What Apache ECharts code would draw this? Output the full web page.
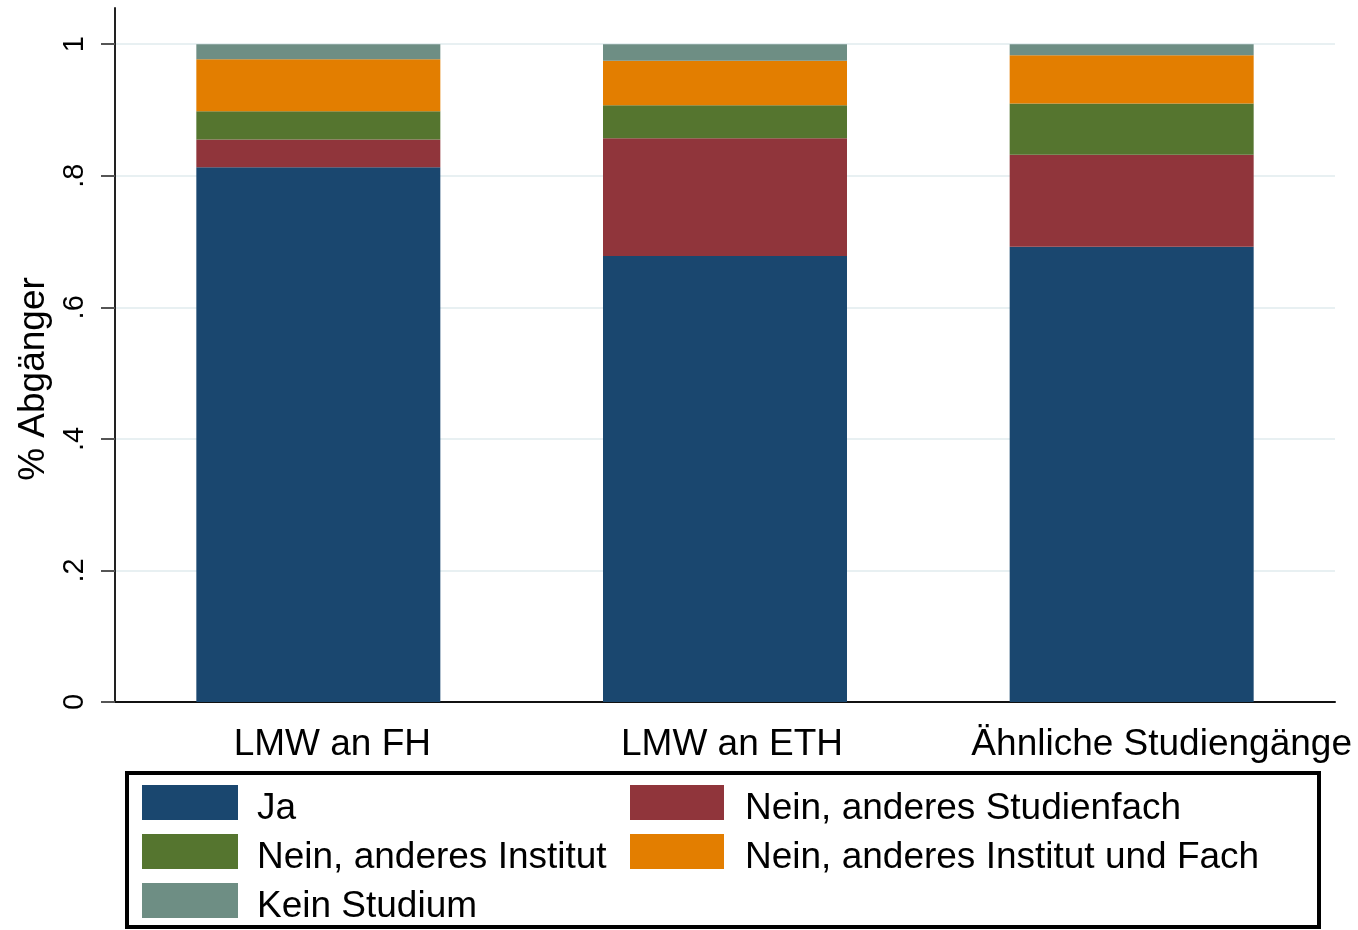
<!DOCTYPE html>
<html>
<head>
<meta charset="utf-8">
<script src="https://cdn.jsdelivr.net/npm/echarts@6/dist/echarts.min.js"></script>
<style>
html,body{margin:0;padding:0;background:#fff;}
#chart{width:1358px;height:930px;}
</style>
</head>
<body>
<div id="chart"></div>
<script>
const categories = ['LMW an FH', 'LMW an ETH', 'Ähnliche Studiengänge'];
const seriesNames = ['Ja', 'Nein, anderes Studienfach', 'Nein, anderes Institut', 'Nein, anderes Institut und Fach', 'Kein Studium'];
const ja = [0.813, 0.678, 0.692];
const andStudienfach = [0.042, 0.179, 0.140];
const andInstitut = [0.043, 0.050, 0.078];
const andInstitutFach = [0.079, 0.068, 0.073];
const keinStudium = [0.023, 0.025, 0.017];
const yTicks = [0, 0.2, 0.4, 0.6, 0.8, 1];
const yTickLabels = ['0', '.2', '.4', '.6', '.8', '1'];

const colors = ['#1a476f', '#90353b', '#55752f', '#e37e00', '#6e8e84'];
const values = [ja, andStudienfach, andInstitut, andInstitutFach, keinStudium];
const FONT = '"Liberation Sans", Arial, sans-serif';

const legendBase = {
  orient: 'vertical',
  top: 778,
  padding: 0,
  itemHeight: 35,
  itemGap: 0,
  icon: 'rect',
  selectedMode: false,
  formatter: function (n) { return '{t|' + n + '}'; }
};

const chart = echarts.init(document.getElementById('chart'));
chart.setOption({
  animation: false,
  backgroundColor: '#fff',
  color: colors,
  grid: { left: 115, right: 23, top: 8, bottom: 228, containLabel: false },
  xAxis: {
    type: 'category',
    data: categories,
    axisLine: { lineStyle: { color: '#111', width: 2 } },
    axisTick: { show: false },
    axisLabel: {
      interval: 0,
      color: '#000',
      fontSize: 37,
      fontFamily: FONT,
      margin: 24,
      formatter: function (v, i) { return '{c' + i + '|' + v + '}'; },
      rich: {
        c0: { fontSize: 37, fontFamily: FONT, color: '#000', padding: [0, 0, 0, 28] },
        c1: { fontSize: 37, fontFamily: FONT, color: '#000', padding: [0, 0, 0, 14] },
        c2: { fontSize: 37, fontFamily: FONT, color: '#000', padding: [0, 0, 0, 60] }
      }
    }
  },
  yAxis: {
    type: 'value',
    min: 0,
    max: 1.055,
    name: '% Abgänger',
    nameLocation: 'middle',
    nameRotate: 90,
    nameGap: 62,
    nameTextStyle: { color: '#000', fontSize: 37, fontFamily: FONT, padding: [0, 48, 0, 0] },
    axisLine: { show: true, lineStyle: { color: '#222', width: 2 } },
    axisTick: { show: true, length: 14, lineStyle: { color: '#555', width: 2 }, customValues: yTicks },
    axisLabel: {
      customValues: yTicks,
      rotate: 90,
      margin: 26,
      color: '#000',
      fontSize: 29,
      fontFamily: FONT,
      formatter: function (v) {
        const i = yTicks.findIndex(t => Math.abs(t - v) < 1e-6);
        return i >= 0 ? yTickLabels[i] : '';
      }
    },
    splitLine: { show: true, lineStyle: { color: '#e8f0f2', width: 2 } }
  },
  legend: [
    Object.assign({}, legendBase, {
      data: [seriesNames[0], seriesNames[2], seriesNames[4]],
      left: 142,
      itemWidth: 96,
      textStyle: {
        color: '#000', fontSize: 37, fontFamily: FONT,
        rich: { t: { color: '#000', fontSize: 37, fontFamily: FONT, lineHeight: 37, padding: [12, 0, 0, 14] } }
      }
    }),
    Object.assign({}, legendBase, {
      data: [seriesNames[1], seriesNames[3]],
      left: 630,
      itemWidth: 94,
      textStyle: {
        color: '#000', fontSize: 37, fontFamily: FONT,
        rich: { t: { color: '#000', fontSize: 37, fontFamily: FONT, lineHeight: 37, padding: [12, 0, 0, 16] } }
      }
    })
  ],
  graphic: [
    {
      type: 'rect',
      shape: { x: 127, y: 773, width: 1192, height: 154 },
      style: { fill: 'none', stroke: '#000', lineWidth: 4 },
      silent: true
    }
  ],
  series: seriesNames.map((n, i) => ({
    name: n,
    type: 'bar',
    stack: 'total',
    data: values[i],
    barWidth: '60%',
    itemStyle: { color: colors[i] }
  }))
});
</script>
</body>
</html>
